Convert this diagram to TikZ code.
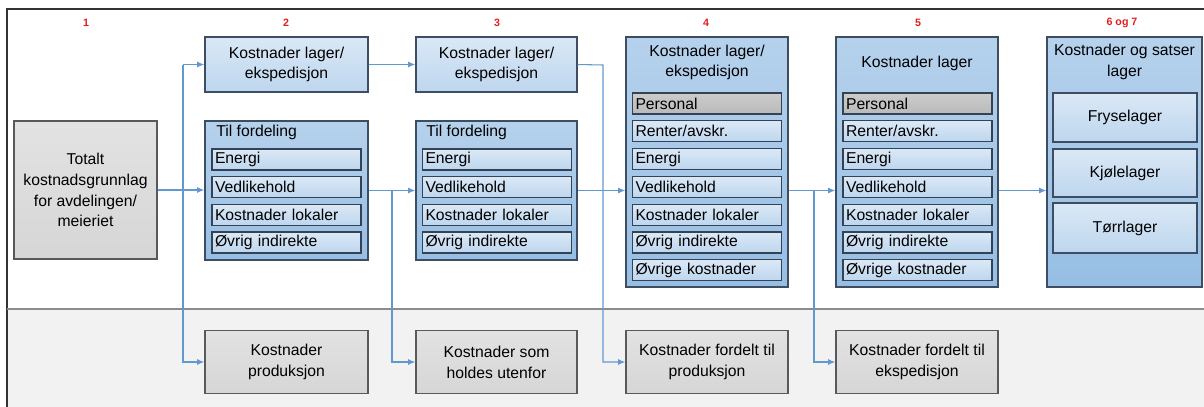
\documentclass[tikz,border=0pt]{standalone}
\usepackage{fontspec}
\setmainfont{Liberation Sans}
\usetikzlibrary{arrows.meta}
\definecolor{lysblaa}{RGB}{189,214,238}
\definecolor{blaa}{RGB}{150,190,228}
\definecolor{kant}{RGB}{62,78,98}
\definecolor{graa}{RGB}{214,214,214}
\definecolor{graamork}{RGB}{186,186,186}
\definecolor{pilfarge}{RGB}{98,152,208}
\definecolor{bunn}{RGB}{242,242,242}
\definecolor{nummer}{RGB}{228,28,28}
\newcommand{\rad}[4]{\node[rad] (#1) at (#2,#3) {#4};}

\begin{document}
\begin{tikzpicture}[x=0.75pt,y=-0.75pt,
  every node/.style={font=\fontsize{11.8}{15.6}\selectfont, inner sep=0pt},
  str/.style 2 args={minimum width=#1*0.75pt, minimum height=#2*0.75pt},
  boks/.style={draw=kant, line width=1pt, top color=lysblaa!55!white, bottom color=lysblaa, align=center},
  beholder/.style={draw=kant, line width=1pt, top color=blaa!70!white, bottom color=blaa},
  graaboks/.style={draw=black!65, line width=1pt, top color=graa!70!white, bottom color=graa, align=center},
  rad/.style={draw=kant!85!black, line width=1pt, top color=lysblaa!55!white, bottom color=lysblaa,
    minimum height=15.75pt, inner xsep=2.25pt, text width=107.25pt, align=left},
  pers/.style={top color=graamork!75!white, bottom color=graamork},
  nr/.style={font=\bfseries\fontsize{8}{9.5}\selectfont, text=nummer},
  pil/.style={draw=pilfarge, line width=0.8pt, -{Latex[length=5.5pt,width=4.5pt]}}]
  \useasboundingbox (0,0) rectangle (1204,407);
  % ramme og nedre felt
  \fill[bunn] (7,309) rectangle (1204,407);
  \draw[line width=1.6pt, black!80] (7,407) -- (7,9) -- (1204,9);
  \draw[line width=1.6pt, black!45] (7,309) -- (1204,309);
  % trinnummer
  \node[nr] (n1) at (86,23) {1};
  \node[nr] (n2) at (286,23) {2};
  \node[nr] (n3) at (497,23) {3};
  \node[nr] (n4) at (706,23) {4};
  \node[nr] (n5) at (918,23) {5};
  \node[nr] (n6) at (1122,23) {6 og 7};
  % trinn 1
  \node[graaboks, str={143}{138}] (tot) at (85.5,190) {Totalt\\kostnadsgrunnlag\\for avdelingen/\\meieriet};
  % trinn 2
  \node[boks, str={163}{55}] (k2) at (286.5,64.5) {Kostnader lager/\\ekspedisjon};
  \node[beholder, str={163}{139}] (f2) at (286.5,190.5) {};
  \node[anchor=west] (t2) at (216,132) {Til fordeling};
  \rad{e2}{286.5}{159.5}{Energi}
  \rad{v2}{286.5}{187.2}{Vedlikehold}
  \rad{l2}{286.5}{214.9}{Kostnader lokaler}
  \rad{o2}{286.5}{242.6}{Øvrig indirekte}
  \node[graaboks, str={163}{63}] (p2) at (286.5,362) {Kostnader\\produksjon};
  % trinn 3
  \node[boks, str={161}{55}] (k3) at (496.5,64.5) {Kostnader lager/\\ekspedisjon};
  \node[beholder, str={161}{139}] (f3) at (496.5,190.5) {};
  \node[anchor=west] (t3) at (426,132) {Til fordeling};
  \rad{e3}{497}{159.5}{Energi}
  \rad{v3}{497}{187.2}{Vedlikehold}
  \rad{l3}{497}{214.9}{Kostnader lokaler}
  \rad{o3}{497}{242.6}{Øvrig indirekte}
  \node[graaboks, str={161}{63}] (p3) at (496.5,362) {Kostnader som\\holdes utenfor};
  % trinn 4
  \node[beholder, str={162}{250}] (c4) at (707,162) {};
  \node[align=center] (t4) at (707,62.5) {Kostnader lager/\\ekspedisjon};
  \node[rad, pers] (pe4) at (707,103.5) {Personal};
  \rad{r4}{707}{131.3}{Renter/avskr.}
  \rad{e4}{707}{159.1}{Energi}
  \rad{v4}{707}{186.9}{Vedlikehold}
  \rad{l4}{707}{214.7}{Kostnader lokaler}
  \rad{o4}{707}{242.5}{Øvrig indirekte}
  \rad{ok4}{707}{270.3}{Øvrige kostnader}
  \node[graaboks, str={162}{63}] (p4) at (707,362) {Kostnader fordelt til\\produksjon};
  % trinn 5
  \node[beholder, str={162}{250}] (c5) at (917,162) {};
  \node (t5) at (917,63) {Kostnader lager};
  \node[rad, pers] (pe5) at (917.5,103.5) {Personal};
  \rad{r5}{917.5}{131.3}{Renter/avskr.}
  \rad{e5}{917.5}{159.1}{Energi}
  \rad{v5}{917.5}{186.9}{Vedlikehold}
  \rad{l5}{917.5}{214.7}{Kostnader lokaler}
  \rad{o5}{917.5}{242.5}{Øvrig indirekte}
  \rad{ok5}{917.5}{270.3}{Øvrige kostnader}
  \node[graaboks, str={162}{63}] (p5) at (917,362) {Kostnader fordelt til\\ekspedisjon};
  % trinn 6 og 7
  \node[beholder, str={155}{250}] (c6) at (1124.5,162) {};
  \node[align=center] (t6) at (1124.5,62) {Kostnader og satser\\lager};
  \node[boks, str={144}{49}] (fry) at (1125,117.5) {Fryselager};
  \node[boks, str={144}{48}] (kjo) at (1125,173) {Kjølelager};
  \node[boks, str={144}{50}] (tor) at (1125,228) {Tørrlager};
  % piler
  \coordinate (g1) at (183,190);
  \coordinate (g2) at (392,190);
  \coordinate (g3) at (603,65);
  \coordinate (g4) at (814,190);
  \draw[pil] (tot.east) -- (tot.east -| f2.west);
  \draw[pil] (g1 |- k2.west) -- (k2.west);
  \draw[pil] (g1 |- k2.west) -- (g1 |- p2.west) -- (p2.west);
  \draw[pil] (k2.east) -- (k3.west);
  \draw[pil] (f2.east) -- (f3.west);
  \draw[pil] (g2) |- (p3.west);
  \draw[pil] (k3.east) -- (g3) |- (p4.west);
  \draw[pil] (f3.east) -- (f3.east -| c4.west);
  \draw[pil] (f3.east -| c4.east) -- (f3.east -| c5.west);
  \draw[pil] (g4) |- (p5.west);
  \draw[pil] (f3.east -| c5.east) -- (f3.east -| c6.west);
\end{tikzpicture}
\end{document}
